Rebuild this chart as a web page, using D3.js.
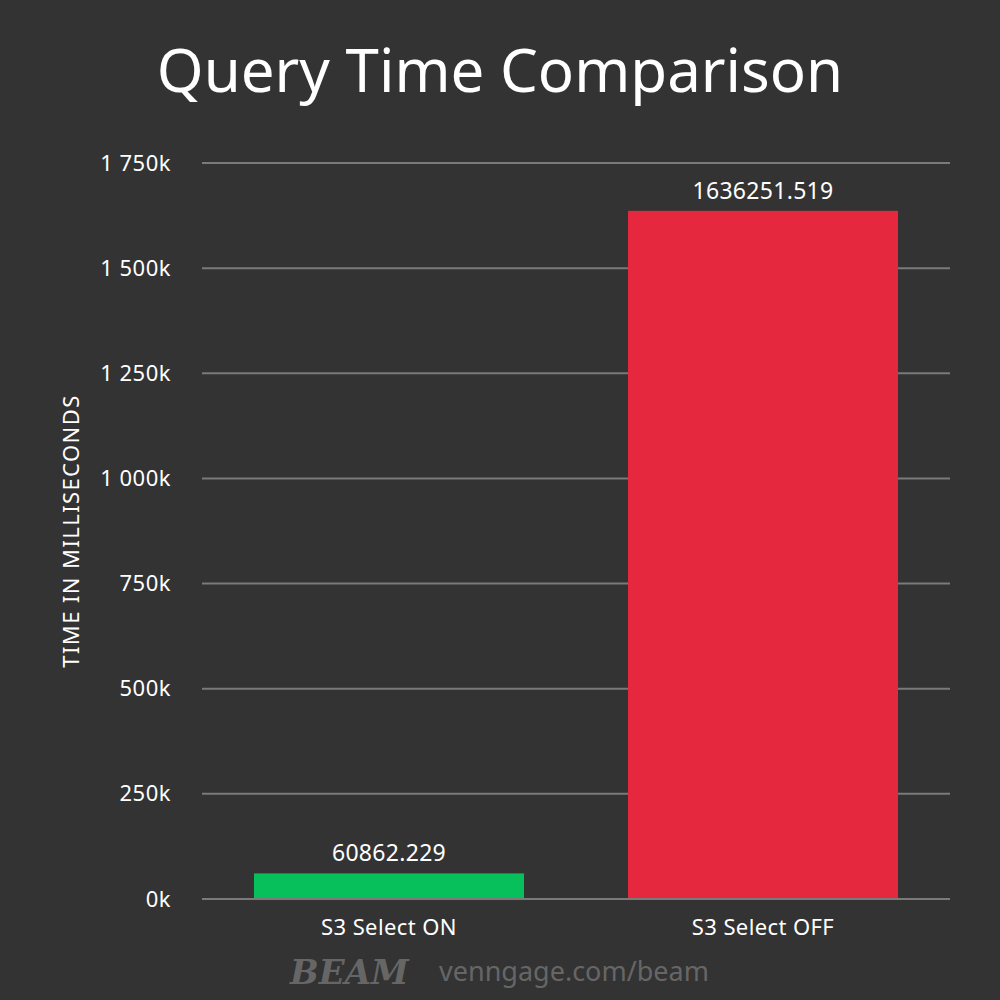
<!DOCTYPE html>
<html>
<head>
<meta charset="utf-8">
<script src="https://cdn.jsdelivr.net/npm/d3@7"></script>
<style>
  body { margin: 0; background: #333333; }
  text { font-family: "Noto Sans", "Open Sans", sans-serif; }
</style>
</head>
<body>
<div id="chart"></div>
<script>
const categories = ["S3 Select ON", "S3 Select OFF"];
const values = [60862.229, 1636251.519];
const valueLabels = ["60862.229", "1636251.519"];
const barColors = ["#07c05b", "#e5283d"];
const yTicks = [0, 250000, 500000, 750000, 1000000, 1250000, 1500000, 1750000];
const tickLabels = ["0k", "250k", "500k", "750k", "1 000k", "1 250k", "1 500k", "1 750k"];

const W = 1000, H = 1000;
const margin = {top: 163, right: 50, bottom: 101, left: 202};
const width = W - margin.left - margin.right,
      height = H - margin.top - margin.bottom;

const svg = d3.select("#chart")
  .append("svg")
    .attr("width", W)
    .attr("height", H);

svg.append("rect")
  .attr("width", W).attr("height", H)
  .attr("fill", "#333333");

// title
svg.append("text")
  .attr("x", W / 2)
  .attr("y", 92)
  .attr("text-anchor", "middle")
  .attr("fill", "#ffffff")
  .style("font-size", "60px")
  .text("Query Time Comparison");

const g = svg.append("g")
  .attr("transform", "translate(" + margin.left + "," + margin.top + ")");

let y = d3.scaleLinear()
  .domain([0, 1750000])
  .range([height, 0]);

let x = d3.scaleBand()
  .domain(categories)
  .range([0, width])
  .paddingInner(0.278)
  .paddingOuter(0.139);

// gridlines + tick labels
const yAxis = g.append("g")
  .call(d3.axisLeft(y)
    .tickValues(yTicks)
    .tickSize(0)
    .tickFormat((d, i) => tickLabels[i]));
yAxis.select(".domain").remove();
yAxis.selectAll("text")
  .attr("x", -31)
  .attr("fill", "#ffffff")
  .style("font-size", "22px")
  .style("letter-spacing", "0.5px")
  .style("font-family", "'Noto Sans', sans-serif");

g.selectAll("line.grid")
  .data(yTicks)
  .enter()
  .append("line")
    .attr("class", "grid")
    .attr("x1", 0)
    .attr("x2", width)
    .attr("y1", d => y(d))
    .attr("y2", d => y(d))
    .attr("stroke", "#7a7a7a")
    .attr("stroke-width", 2);

// bars
g.selectAll("rect.bar")
  .data(values)
  .enter()
  .append("rect")
    .attr("class", "bar")
    .attr("x", (d, i) => x(categories[i]))
    .attr("y", d => y(d))
    .attr("width", x.bandwidth())
    .attr("height", d => height - y(d) - 1)
    .attr("fill", (d, i) => barColors[i]);

// value labels
g.selectAll("text.val")
  .data(values)
  .enter()
  .append("text")
    .attr("class", "val")
    .attr("x", (d, i) => x(categories[i]) + x.bandwidth() / 2)
    .attr("y", d => y(d) - 12)
    .attr("text-anchor", "middle")
    .attr("fill", "#ffffff")
    .style("font-size", "23px")
    .style("letter-spacing", "0.3px")
    .text((d, i) => valueLabels[i]);

// x axis labels
const xAxis = g.append("g")
  .attr("transform", "translate(0," + height + ")")
  .call(d3.axisBottom(x).tickSize(0));
xAxis.select(".domain").remove();
xAxis.selectAll("text")
  .attr("y", 20)
  .attr("fill", "#ffffff")
  .style("font-size", "22px")
  .style("letter-spacing", "0.4px")
  .style("font-family", "'Noto Sans', sans-serif");

// y axis title
svg.append("text")
  .attr("transform", "translate(79,531) rotate(-90)")
  .attr("text-anchor", "middle")
  .attr("fill", "#ffffff")
  .style("font-size", "22px")
  .style("letter-spacing", "1.4px")
  .text("TIME IN MILLISECONDS");

// watermark
svg.append("text")
  .attr("x", 290)
  .attr("y", 984)
  .attr("fill", "#666666")
  .style("font-size", "34px")
  .style("font-weight", "900")
  .style("font-style", "italic")
  .style("font-family", "'DejaVu Serif', serif")
  .text("BEAM");

svg.append("text")
  .attr("x", 439)
  .attr("y", 981)
  .attr("fill", "#666666")
  .style("font-size", "27px")
  .text("venngage.com/beam");
</script>
</body>
</html>
